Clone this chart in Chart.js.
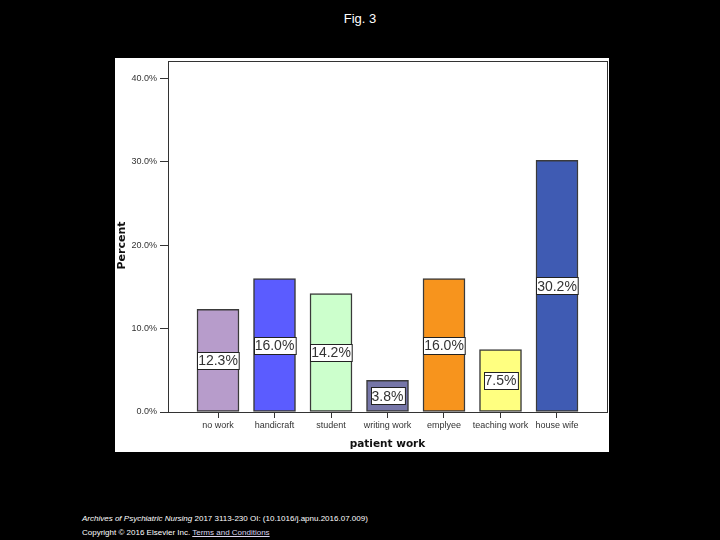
<!DOCTYPE html>
<html>
<head>
<meta charset="utf-8">
<script src="https://cdn.jsdelivr.net/npm/chart.js@4/dist/chart.umd.min.js"></script>
<style>
  html, body { margin:0; padding:0; background:#000; width:720px; height:540px; overflow:hidden; font-family: "Liberation Sans", Arial, sans-serif; }
  #title { position:absolute; left:0; width:720px; top:11px; text-align:center; color:#fff; font-size:13px; }
  #panel { position:absolute; left:115px; top:58px; width:494px; height:394px; background:#fff; }
  #foot { position:absolute; left:82px; top:512px; color:#fff; font-size:8px; line-height:14px; }
  #foot a { color:#dcd6f0; text-decoration:underline; }
</style>
</head>
<body>
<div id="title">Fig. 3</div>
<div id="panel"><canvas id="c" width="494" height="394"></canvas></div>
<div id="foot"><i>Archives of Psychiatric Nursing</i> 2017 3113-230 OI: (10.1016/j.apnu.2016.07.009)<br>Copyright © 2016 Elsevier Inc. <a>Terms and Conditions</a></div>
<script>
const categories = ["no work", "handicraft", "student", "writing work", "emplyee", "teaching work", "house wife"];
const percents = [12.3, 16.0, 14.2, 3.8, 16.0, 7.5, 30.2];
const barColors = ["#b79ccb", "#5b5cff", "#ccffcc", "#7676a8", "#f7941d", "#ffff80", "#3f5bb3"];
const yTicks = [0, 10, 20, 30, 40];
const yTitle = "Percent";
const xTitle = "patient work";

const points = percents.map((v, i) => ({x: i, y: v}));

const frame = {
  id: 'frame',
  afterDatasetsDraw(chart) {
    const {ctx, chartArea: a} = chart;
    ctx.save();
    ctx.strokeStyle = '#333';
    ctx.lineWidth = 1;
    ctx.strokeRect(Math.round(a.left) + 0.5, Math.round(a.top) + 0.5, Math.round(a.right - a.left), Math.round(a.bottom - a.top));
    const meta = chart.getDatasetMeta(0);
    ctx.font = '14px "Liberation Sans", Arial, sans-serif';
    ctx.textAlign = 'center';
    ctx.textBaseline = 'middle';
    meta.data.forEach((bar, i) => {
      const txt = percents[i].toFixed(1) + '%';
      const cy = (bar.y + bar.base) / 2;
      const w = ctx.measureText(txt).width + 2;
      const h = 17;
      const x0 = Math.round(bar.x - w / 2) + 0.5, y0 = Math.round(cy - h / 2) + 0.5;
      ctx.fillStyle = '#fff';
      ctx.fillRect(x0, y0, w, h);
      ctx.strokeStyle = '#222';
      ctx.strokeRect(x0, y0, w, h);
      ctx.fillStyle = '#333';
      ctx.fillText(txt, bar.x, cy + 1);
    });
    // y axis title, placed a little below the plot centre as in the original
    ctx.translate(7, (a.top + a.bottom) / 2 + 9);
    ctx.rotate(-Math.PI / 2);
    ctx.font = 'bold 11px "DejaVu Sans", sans-serif';
    ctx.fillStyle = '#111';
    ctx.fillText(yTitle, 0, 0);
    ctx.restore();
  }
};

new Chart(document.getElementById('c'), {
  type: 'bar',
  data: {
    datasets: [{
      data: points,
      backgroundColor: barColors,
      borderColor: '#3a3a3a',
      borderWidth: 1.5,
      borderSkipped: false,
      barThickness: 42
    }]
  },
  options: {
    responsive: false,
    animation: false,
    layout: { padding: { left: 0, top: 3, right: 2, bottom: 0 } },
    plugins: { legend: { display: false }, tooltip: { enabled: false } },
    scales: {
      x: {
        type: 'linear',
        offset: false,
        min: -0.885,
        max: 6.885,
        afterBuildTicks(scale) { scale.ticks = categories.map((c, i) => ({value: i})); },
        afterFit(scale) { scale.height = 40; scale.paddingLeft = 0; scale.paddingRight = 0; },
        ticks: {
          callback: (v) => categories[v],
          color: '#333',
          font: { size: 9, family: '"Liberation Sans", Arial, sans-serif' },
          padding: 2,
          maxRotation: 0,
          autoSkip: false
        },
        grid: { offset: false, drawOnChartArea: false, drawTicks: true, tickLength: 6, color: '#333' },
        border: { display: true, color: '#333' },
        title: {
          display: true,
          text: xTitle,
          color: '#111',
          font: { size: 10.5, weight: 'bold', family: '"DejaVu Sans", sans-serif' },
          padding: { top: 2, bottom: 1 }
        }
      },
      y: {
        min: 0,
        max: 42.1,
        afterBuildTicks(scale) { scale.ticks = yTicks.map(v => ({value: v})); },
        afterFit(scale) { scale.width = 53; scale.paddingTop = 0; scale.paddingBottom = 0; },
        ticks: {
          callback: (v) => v.toFixed(1) + '%',
          color: '#333',
          font: { size: 9, family: '"Liberation Sans", Arial, sans-serif' },
          padding: 3
        },
        grid: { drawOnChartArea: false, drawTicks: true, tickLength: 8, color: '#333' },
        border: { display: true, color: '#333' },
        title: { display: false }
      }
    }
  },
  plugins: [frame]
});
</script>
</body>
</html>
